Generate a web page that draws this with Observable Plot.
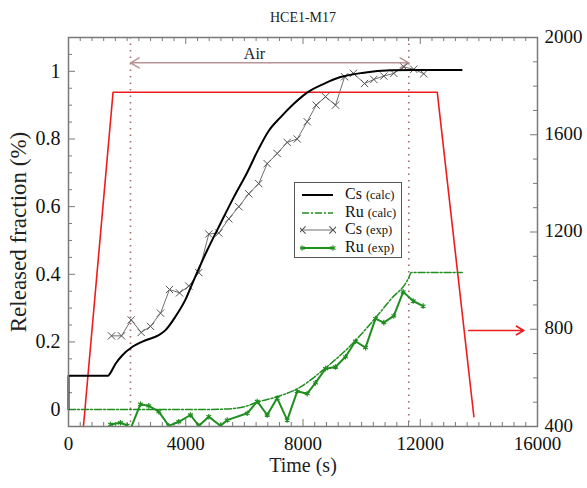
<!DOCTYPE html>
<html><head><meta charset="utf-8">
<script src="https://cdn.jsdelivr.net/npm/d3@7"></script>
<script src="https://cdn.jsdelivr.net/npm/@observablehq/plot@0.6"></script>
<style>
body{margin:0;background:#fff;}
#wrap{position:relative;width:587px;height:488px;font-family:"Liberation Serif","DejaVu Serif",serif;}
#wrap svg text{font-family:"Liberation Serif","DejaVu Serif",serif;}
#legend{position:absolute;left:294px;top:182px;width:108px;height:76px;border:1.5px solid #555;background:#fff;box-sizing:border-box;}
.row{position:absolute;left:0;height:18px;width:106px;}
.row svg{position:absolute;left:5px;top:0;}
.row .lab{position:absolute;left:50px;top:-1px;white-space:nowrap;color:#111;}
.big{font-size:16px;}
.small{font-size:12.5px;}
</style></head><body><div id="wrap"></div>
<script>
// ---- data ----
const titleText = "HCE1-M17";
const xLabel = "Time (s)";
const yLabel = "Released fraction (%)";
const xTickLabels = [0, 4000, 8000, 12000, 16000];
const yTickLabels = [0, 0.2, 0.4, 0.6, 0.8, 1];
const tTickLabels = [400, 800, 1200, 1600, 2000];

// Cs calculated release
const csCalcT = [0, 0, 1350, 1420, 1600, 1830, 2170, 2630, 3080, 3310, 3650, 3990, 4275, 4732, 5185, 5640, 6096, 6482, 6823, 7232, 7686, 8143, 8710, 9280, 10074, 10985, 11780, 13410];
const csCalcY = [0, 0.1, 0.1, 0.107, 0.135, 0.16, 0.185, 0.205, 0.22, 0.235, 0.275, 0.325, 0.383, 0.471, 0.55, 0.628, 0.701, 0.77, 0.823, 0.864, 0.904, 0.937, 0.963, 0.983, 0.996, 1.003, 1.004, 1.004];
// Ru calculated release
const ruCalcT = [0, 4500, 5470, 6096, 6437, 7120, 7918, 8710, 9632, 10415, 10985, 11610, 11690, 13430];
const ruCalcY = [0, 0, 0.002, 0.011, 0.022, 0.038, 0.067, 0.119, 0.19, 0.265, 0.325, 0.39, 0.405, 0.405];
// Cs experimental
const csExpT = [1467, 1808, 2139, 2480, 2797, 3139, 3446, 3787, 4104, 4445, 4786, 5128, 5469, 5810, 6150, 6490, 6779, 7120, 7461, 7802, 8143, 8450, 8768, 9109, 9420, 9720, 10100, 10416, 10757, 11098, 11439, 11780, 12121];
const csExpY = [0.218, 0.218, 0.265, 0.228, 0.246, 0.285, 0.355, 0.345, 0.365, 0.405, 0.519, 0.522, 0.564, 0.6, 0.638, 0.668, 0.727, 0.757, 0.79, 0.8, 0.851, 0.9, 0.925, 0.9, 0.984, 0.994, 0.964, 0.976, 0.986, 0.994, 1.013, 1.006, 0.993];
// Ru experimental
const ruExpT = [1433, 1774, 2003, 2080, 2456, 2739, 3081, 3422, 3763, 4162, 4445, 4786, 5185, 5414, 6096, 6437, 6779, 7120, 7461, 7802, 8143, 8426, 8768, 9109, 9450, 9791, 10132, 10473, 10757, 11098, 11418, 11759, 12100];
const ruExpY = [-0.044, -0.039, -0.047, -0.065, 0.016, 0.011, -0.006, -0.048, -0.036, -0.016, -0.048, -0.021, -0.048, -0.031, -0.011, 0.024, -0.016, 0.034, -0.031, 0.054, 0.047, 0.079, 0.121, 0.126, 0.156, 0.202, 0.183, 0.269, 0.257, 0.277, 0.348, 0.321, 0.306];
// Temperature (right axis, K)
const tempT = [510, 1520, 12580, 13830];
const tempK = [400, 1775, 1775, 440];
// Annotations
const airLabel = "Air";
const airStart = 2115, airEnd = 11610, airLevel = 1.025, airTextT = 6345;
const tempArrowT = [13656, 15533];
const tempArrowK = 795;

// ---- scales helpers ----
const xDom = [0, 16000];
const yDom = [-0.05, 1.1];
const TDom = [400, 2000];
const toY = T => yDom[0] + (T - TDom[0]) / (TDom[1] - TDom[0]) * (yDom[1] - yDom[0]);
const fromY = y => TDom[0] + (y - yDom[0]) / (yDom[1] - yDom[0]) * (TDom[1] - TDom[0]);

const zip = (ts, vs) => ts.map((t, i) => ({t, v: vs[i]}));
const csCalc = zip(csCalcT, csCalcY);
const ruCalc = zip(ruCalcT, ruCalcY);
const csExp = zip(csExpT, csExpY);
const ruExp = zip(ruExpT, ruExpY);
const temp = tempT.map((t, i) => ({t, v: toY(tempK[i])}));

const W = 587, H = 488, mL = 68, mR = 50, mT = 37, mB = 62;
const fw = W - mL - mR, fh = H - mT - mB;

const xMinor = d3.range(0, 16001, 400).filter(d => d % 4000 !== 0);
const yMinor = d3.range(-1, 23).map(i => i * 0.05).filter(d => d >= yDom[0] - 1e-9 && d <= yDom[1] + 1e-9 && Math.abs(Math.round(d / 0.2) * 0.2 - d) > 1e-6);
const tMinor = d3.range(400, 2001, 100).filter(d => d % 400 !== 0);

const serif = "Liberation Serif";
const grayAxis = "#7a7a7a";
const green = "#1f8f1f";
const red = "#ee1c1c";
const airColor = "#b99494";
const dotColor = "#a86a6a";

const chart = Plot.plot({
  width: W, height: H,
  marginLeft: mL, marginRight: mR, marginTop: mT, marginBottom: mB,
  style: {fontFamily: serif, fontSize: "19px", background: "white", color: "#111"},
  x: {domain: xDom},
  y: {domain: yDom},
  marks: [
    // inward ticks
    Plot.ruleX(xMinor, {x: d => d, insetTop: fh - 4, stroke: grayAxis}),
    Plot.ruleX(xTickLabels, {x: d => d, insetTop: fh - 7, stroke: grayAxis}),
    Plot.ruleX(xMinor, {x: d => d, insetBottom: fh - 4, stroke: grayAxis}),
    Plot.ruleX(xTickLabels, {x: d => d, insetBottom: fh - 7, stroke: grayAxis}),
    Plot.ruleY(yMinor, {y: d => d, insetRight: fw - 4, stroke: grayAxis}),
    Plot.ruleY(yTickLabels, {y: d => d, insetRight: fw - 7, stroke: grayAxis}),
    Plot.ruleY(tMinor.map(toY), {y: d => d, insetLeft: fw - 4, stroke: grayAxis}),
    Plot.ruleY(tTickLabels.map(toY), {y: d => d, insetLeft: fw - 7, stroke: grayAxis}),
    // tick labels
    Plot.axisX({ticks: xTickLabels, tickSize: 0, tickPadding: 10, label: null, fontSize: 19, fontFamily: serif, tickFormat: d => String(d)}),
    Plot.axisY({ticks: yTickLabels, tickSize: 0, tickPadding: 8, label: null, fontSize: 20, fontFamily: serif, tickFormat: d => String(+d.toFixed(1))}),
    Plot.axisY({anchor: "right", ticks: tTickLabels.map(toY), tickSize: 0, tickPadding: 7, label: null, fontSize: 19, fontFamily: serif, dy: -1, tickFormat: d => String(Math.round(fromY(d)))}),
    // air period
    Plot.ruleX([airStart, airEnd], {x: d => d, stroke: dotColor, strokeWidth: 1.6, strokeDasharray: "1.5,5"}),
    Plot.arrow([{a: (airStart + airEnd) / 2, b: airStart}, {a: (airStart + airEnd) / 2, b: airEnd}], {
      x1: "a", x2: "b", y1: () => airLevel, y2: () => airLevel, stroke: airColor, strokeWidth: 1.5, headLength: 10, bend: 0
    }),
    Plot.text([airLabel], {x: () => airTextT, y: () => airLevel, dy: -9, fontSize: 16, fontFamily: serif, fill: "#222"}),
    // temperature
    Plot.line(temp, {x: "t", y: "v", stroke: red, strokeWidth: 1.6}),
    Plot.arrow([0], {x1: () => tempArrowT[0], x2: () => tempArrowT[1], y1: () => toY(tempArrowK), y2: () => toY(tempArrowK), stroke: red, strokeWidth: 1.6, headLength: 8, bend: 0}),
    // Ru calc
    Plot.line(ruCalc, {x: "t", y: "v", stroke: green, strokeWidth: 1.5, strokeDasharray: "7,2,2,2", curve: "monotone-x", clip: true}),
    // Ru exp
    Plot.line(ruExp, {x: "t", y: "v", stroke: green, strokeWidth: 2, clip: true}),
    Plot.dot(ruExp, {x: "t", y: "v", symbol: "asterisk", r: 2.6, stroke: green, strokeWidth: 1.2, clip: true}),
    // Cs exp
    Plot.line(csExp, {x: "t", y: "v", stroke: "#707070", strokeWidth: 1}),
    Plot.dot(csExp, {x: "t", y: "v", symbol: "times", r: 3.4, stroke: "#555", strokeWidth: 1}),
    // Cs calc
    Plot.line(csCalc, {x: "t", y: "v", stroke: "#000", strokeWidth: 2, curve: "monotone-x"}),
    // frame
    Plot.frame({stroke: grayAxis, strokeWidth: 1.5}),
    // texts
    Plot.text([titleText], {frameAnchor: "top", dy: -25, fontSize: 14, fontFamily: serif, fill: "#222"}),
    Plot.text([xLabel], {frameAnchor: "bottom", dy: 45, fontSize: 20, fontFamily: serif, fill: "#222"}),
    Plot.text([yLabel], {frameAnchor: "left", textAnchor: "middle", rotate: -90, dx: -50, fontSize: 23, fontFamily: serif, fill: "#222"})
  ]
});

const wrap = document.getElementById("wrap");
wrap.appendChild(chart);

// legend
const legendItems = [
  {el: "Cs", kind: "(calc)", stroke: "#000", width: 2, dash: null, marker: null},
  {el: "Ru", kind: "(calc)", stroke: green, width: 1.5, dash: "7,2,2,2", marker: null},
  {el: "Cs", kind: "(exp)", stroke: "#707070", width: 1, dash: null, marker: "times"},
  {el: "Ru", kind: "(exp)", stroke: green, width: 2, dash: null, marker: "asterisk"}
];
const legend = document.createElement("div");
legend.id = "legend";
legendItems.forEach((it, i) => {
  const row = document.createElement("div");
  row.className = "row";
  row.style.top = (3 + i * 17.7) + "px";
  const svg = d3.create("svg").attr("width", 36).attr("height", 18);
  svg.append("line").attr("x1", 2).attr("x2", 33).attr("y1", 9).attr("y2", 9)
    .attr("stroke", it.stroke).attr("stroke-width", it.width).attr("stroke-dasharray", it.dash);
  if (it.marker) {
    const sym = it.marker === "times" ? d3.symbolTimes : d3.symbolAsterisk;
    const s = it.marker === "times" ? 36 : 22;
    [2, 33].forEach(x => svg.append("path").attr("d", d3.symbol(sym, s)()).attr("transform", `translate(${x},9)`)
      .attr("fill", "none").attr("stroke", it.marker === "times" ? "#555" : it.stroke).attr("stroke-width", 1.1));
  }
  row.appendChild(svg.node());
  const lab = document.createElement("div");
  lab.className = "lab";
  lab.innerHTML = `<span class="big">${it.el}</span> <span class="small">${it.kind}</span>`;
  row.appendChild(lab);
  legend.appendChild(row);
});
wrap.appendChild(legend);
</script></body></html>
